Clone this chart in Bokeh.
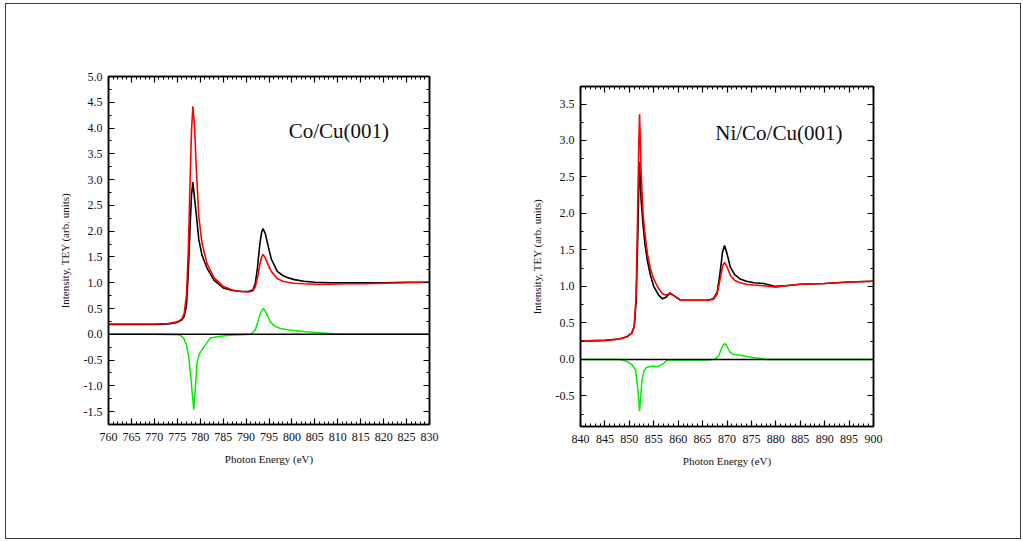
from bokeh.plotting import figure
from bokeh.layouts import row
from bokeh.models import (Range1d, LinearAxis, SingleIntervalTicker, PrintfTickFormatter,
                          CustomJSTickFormatter, Span, Label)
from bokeh.embed import file_html
from bokeh.resources import INLINE

# ---------------- data: Co L-edge (left panel) ----------------
co_e = [760, 765, 770, 773, 775, 776, 776.5, 777, 777.4, 777.8, 778.1, 778.4, 778.75, 779.2,
        779.7, 780.4, 781.5, 783, 785, 787, 789, 790.5, 791.5, 792, 792.5, 793, 793.4, 793.7,
        794.2, 794.8, 795.5, 796.8, 798, 799, 800.5, 802.6, 805, 808.4, 812, 816, 820, 825, 830]
co_black = [0.19, 0.19, 0.19, 0.20, 0.23, 0.28, 0.35, 0.55, 1.2, 2.1, 2.7, 2.95, 2.65, 2.28,
            1.83, 1.53, 1.28, 1.05, 0.90, 0.85, 0.83, 0.83, 0.86, 0.98, 1.3, 1.75, 1.98, 2.05,
            1.95, 1.72, 1.46, 1.22, 1.14, 1.10, 1.06, 1.03, 1.01, 1.00, 1.00, 1.00, 1.00, 1.01, 1.01]
co_red = [0.20, 0.20, 0.20, 0.21, 0.24, 0.30, 0.40, 0.75, 1.6, 3.0, 3.95, 4.42, 4.05, 3.12,
          2.28, 1.76, 1.37, 1.10, 0.93, 0.86, 0.83, 0.82, 0.84, 0.92, 1.1, 1.35, 1.50, 1.55,
          1.48, 1.35, 1.22, 1.08, 1.03, 1.01, 0.99, 0.98, 0.97, 0.97, 0.98, 0.98, 0.99, 1.00, 1.01]
co_xmcd_e = [760, 770, 775, 775.7, 776.4, 777, 777.5, 778, 778.3, 778.6, 778.9, 779.3, 779.8,
             780.8, 782.2, 784.4, 786.5, 789, 791, 792, 792.6, 793.2, 793.7, 794.2, 795.3,
             796.2, 797.5, 799, 801, 803, 806, 809, 812, 820, 830]
co_xmcd = [0.0, 0.0, -0.01, -0.02, -0.08, -0.2, -0.44, -0.85, -1.2, -1.46, -1.1, -0.55, -0.38,
           -0.25, -0.07, -0.04, -0.02, -0.01, 0.0, 0.08, 0.25, 0.42, 0.50, 0.45, 0.24,
           0.16, 0.11, 0.09, 0.07, 0.05, 0.03, 0.01, 0.0, 0.0, 0.0]

# ---------------- data: Ni L-edge (right panel) ----------------
ni_e = [840, 845, 848, 849.5, 850.5, 851.0, 851.4, 851.7, 851.95, 852.1, 852.4, 852.8, 853.2,
        853.7, 854.3, 855.0, 856.0, 856.8, 857.5, 858.3, 859.2, 860.5, 863, 866, 867.2, 868.0,
        868.6, 869.1, 869.5, 870.0, 870.7, 871.6, 872.7, 874, 875.5, 877.5, 880, 882, 885, 890,
        895, 900]
ni_black = [0.25, 0.26, 0.28, 0.31, 0.36, 0.45, 0.8, 1.6, 2.4, 2.70, 2.2, 1.85, 1.58,
            1.35, 1.16, 1.00, 0.88, 0.83, 0.85, 0.91, 0.87, 0.81, 0.81, 0.81, 0.83, 0.92,
            1.2, 1.48, 1.56, 1.45, 1.26, 1.16, 1.10, 1.07, 1.05, 1.04, 1.00, 1.01, 1.03, 1.04,
            1.06, 1.07]
ni_red = [0.25, 0.26, 0.28, 0.31, 0.36, 0.45, 0.9, 2.0, 3.0, 3.36, 2.6, 2.0, 1.72,
          1.45, 1.25, 1.10, 0.97, 0.90, 0.88, 0.91, 0.87, 0.81, 0.81, 0.81, 0.82, 0.90,
          1.1, 1.28, 1.33, 1.27, 1.15, 1.08, 1.05, 1.03, 1.02, 1.01, 0.99, 1.01, 1.03, 1.04,
          1.06, 1.07]
ni_xmcd_e = [840, 848, 849.6, 850.5, 851.3, 851.8, 852.1, 852.4, 852.6, 853.0, 853.5, 854.7,
             855.7, 856.4, 857.1, 857.8, 860, 866, 867.5, 868.3, 869.0, 869.5, 870.0, 870.6,
             871.2, 872.5, 874, 876, 878, 885, 900]
ni_xmcd = [0.0, 0.0, -0.03, -0.07, -0.15, -0.45, -0.71, -0.45, -0.28, -0.16, -0.11, -0.09,
           -0.10, -0.08, -0.05, -0.01, -0.01, -0.01, 0.0, 0.05, 0.17, 0.22, 0.18, 0.10,
           0.07, 0.06, 0.04, 0.02, 0.0, 0.0, 0.0]

SERIF = "Liberation Serif"
BLACK = "#000000"
RED = "#ff0000"
GREEN = "#00ee00"


def style_axis(ax):
    ax.axis_line_color = BLACK
    ax.axis_line_width = 1.5
    ax.major_tick_in = 6
    ax.major_tick_out = 0
    ax.minor_tick_in = 3
    ax.minor_tick_out = 0
    ax.major_tick_line_color = BLACK
    ax.minor_tick_line_color = BLACK
    ax.major_tick_line_width = 1.2
    ax.minor_tick_line_width = 1.0
    ax.major_label_text_font = SERIF
    ax.major_label_text_color = "#111111"
    ax.major_label_text_font_size = "12px"
    ax.axis_label_text_font = SERIF
    ax.axis_label_text_font_style = "normal"
    ax.axis_label_text_color = "#111111"
    ax.axis_label_text_font_size = "11px"


def make_panel(xr, yr, width, height, margin, borders, title, title_pos,
               e, black, red, xe, xmcd):
    left, right, top, bottom = borders
    p = figure(width=width, height=height, output_backend="svg", toolbar_location=None,
               x_range=Range1d(*xr), y_range=Range1d(*yr),
               min_border_left=left, min_border_right=right,
               min_border_top=top, min_border_bottom=bottom,
               margin=margin,
               x_axis_label="Photon Energy (eV)",
               y_axis_label="Intensity, TEY (arb. units)")
    p.title.visible = False
    p.grid.visible = False
    p.outline_line_color = BLACK
    p.outline_line_width = 1.5
    p.background_fill_color = "white"
    p.border_fill_color = "white"

    xt = SingleIntervalTicker(interval=5, num_minor_ticks=5)
    yt = SingleIntervalTicker(interval=0.5, num_minor_ticks=2)

    bottom_ax = p.below[0]
    left_ax = p.left[0]
    bottom_ax.ticker = xt
    left_ax.ticker = yt
    bottom_ax.formatter = PrintfTickFormatter(format="%d")
    left_ax.formatter = PrintfTickFormatter(format="%.1f")
    style_axis(bottom_ax)
    style_axis(left_ax)
    bottom_ax.major_label_standoff = 8
    bottom_ax.axis_label_standoff = 9
    left_ax.major_label_standoff = 6
    left_ax.axis_label_standoff = 10

    for side, tk in (("above", xt), ("right", yt)):
        ax = LinearAxis(ticker=tk, formatter=CustomJSTickFormatter(code="return ''"))
        style_axis(ax)
        ax.major_label_standoff = 0
        p.add_layout(ax, side)

    p.line(xe, xmcd, line_color=GREEN, line_width=1.5)
    p.add_layout(Span(location=0, dimension="width", line_color=BLACK, line_width=1.5))
    p.line(e, black, line_color=BLACK, line_width=1.6)
    p.line(e, red, line_color=RED, line_width=1.6)

    p.add_layout(Label(x=title_pos[0], y=title_pos[1], text=title,
                       text_font=SERIF, text_font_size="21px", text_color="#111111",
                       text_baseline="alphabetic", text_align="left"))
    return p


p1 = make_panel((760, 830), (-1.75, 5.0), 494, 532, (0, 0, 2, 0), (102, 71, 72, 112),
                "Co/Cu(001)", (799.3, 3.95),
                co_e, co_black, co_red, co_xmcd_e, co_xmcd)
p2 = make_panel((840, 900), (-0.92, 3.74), 520, 524, (10, 0, 0, 0), (80, 147, 72, 112),
                "Ni/Co/Cu(001)", (867.6, 3.10),
                ni_e, ni_black, ni_red, ni_xmcd_e, ni_xmcd)

layout = row(p1, p2, margin=(3, 0, 0, 5),
             styles={"border": "1px solid #3a3a3a", "background": "white"})

open("out.html", "w").write(file_html(layout, INLINE))
